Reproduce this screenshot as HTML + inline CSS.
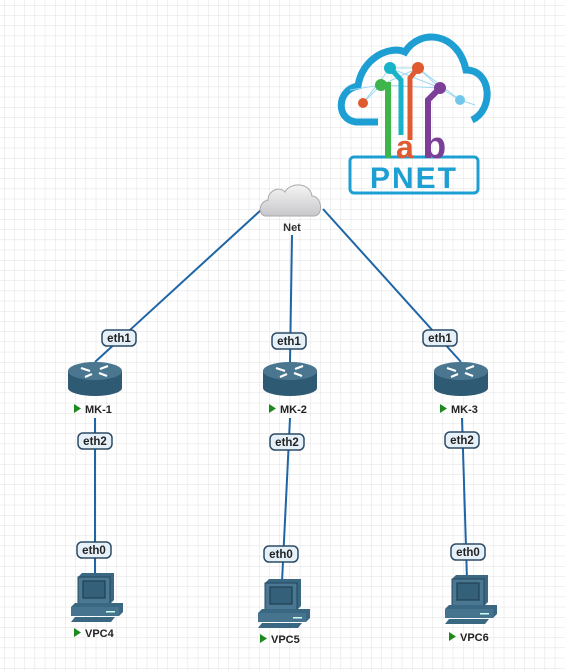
<!DOCTYPE html>
<html><head><meta charset="utf-8"><style>
html,body{margin:0;padding:0;background:#fff;}
svg{display:block;}
text{font-family:"Liberation Sans",sans-serif;font-weight:bold;}
</style></head><body>
<svg width="565" height="670" viewBox="0 0 565 670" xmlns="http://www.w3.org/2000/svg">
<defs>
<pattern id="g" x="4" y="5" width="10.2" height="10.2" patternUnits="userSpaceOnUse">
<path d="M0 0H10.2M0 0V10.2" stroke="#e0e0e0" stroke-width="1" fill="none"/>
</pattern>
<linearGradient id="cl" x1="0" y1="0" x2="0" y2="1"><stop offset="0" stop-color="#f4f4f4"/><stop offset="1" stop-color="#c8c8cc"/></linearGradient>
<g id="router">
<path d="M-27 -8 V9 A27 8 0 0 0 27 9 V-8 Z" fill="#2f5a73"/>
<ellipse cx="0" cy="-8" rx="27" ry="9" fill="#4a7690"/>
<g stroke="#fff" stroke-width="2.2" fill="none">
<path d="M-14 -11 L-5 -8 M-3 -5 L-10 -2 M5 -10 L13 -13 M4 -6 L12 -3"/>
</g>
</g>
<g id="pc">
<path d="M-18 -27 L-14 -31 H18 V-4 L14 0 H-18 Z" fill="#3a6781"/>
<rect x="-18" y="-27" width="32" height="27" fill="#4a7892" stroke="#24485e" stroke-width="1"/>
<rect x="-13" y="-23" width="22" height="17" fill="#356079" stroke="#1f3f52" stroke-width="1.2"/>
<path d="M-25 3 L-21 -1 H27 V8 L23 12 H-25 Z" fill="#3a6781"/>
<rect x="-25" y="3" width="48" height="9" fill="#46748e"/>
<rect x="10" y="7" width="9" height="1.5" fill="#cfe"/>
<path d="M-21 13 H19 L15 18 H-25 Z" fill="#3a6781"/>
</g>
</defs>
<rect width="565" height="670" fill="url(#g)"/>

<g stroke="#1f65a6" stroke-width="2" fill="none">
<line x1="261" y1="210" x2="95" y2="362"/>
<line x1="292" y1="235" x2="290" y2="362"/>
<line x1="323" y1="209" x2="461" y2="362"/>
<line x1="95" y1="418" x2="95" y2="578"/>
<line x1="290" y1="418" x2="282" y2="582"/>
<line x1="462" y1="418" x2="467" y2="580"/>
</g>

<!-- logo -->
<g>
<path d="M378 122 H356 C336 120 336 90 358 86 C362 58 390 45 405 52 C420 28 458 32 466 70 C492 70 494 110 472 120" fill="none" stroke="#1e9fd4" stroke-width="7"/>
<g stroke="#9fd8ef" stroke-width="1" fill="none">
<path d="M363 103 L390 68 L418 68 L440 88 L460 100 M363 103 L381 85 L440 88 M390 68 L440 88 M418 68 L460 100 M381 85 L418 68 M350 90 L381 85 M460 100 L475 105"/>
</g>
<rect x="350" y="157" width="128" height="36" rx="4" fill="none" stroke="#1e9fd4" stroke-width="3"/>
<text x="414" y="188" font-size="30" fill="#1e9fd4" text-anchor="middle" letter-spacing="2">PNET</text>
<path d="M381 85 H388 V158" stroke="#3db54a" stroke-width="6" fill="none"/>
<path d="M390 68 L401 80 V135" stroke="#17b3c8" stroke-width="5" fill="none"/>
<path d="M418 68 L410 78 V140" stroke="#e05a30" stroke-width="5" fill="none"/>
<path d="M440 88 L428 100 V158" stroke="#7b3f98" stroke-width="6" fill="none"/>
<text x="396" y="158" font-size="32" fill="#e05a30">a</text>
<text x="423" y="158" font-size="38" fill="#7b3f98">b</text>
<circle cx="390" cy="68" r="6" fill="#17b3c8"/>
<circle cx="418" cy="68" r="6" fill="#e05a30"/>
<circle cx="381" cy="85" r="6" fill="#3db54a"/>
<circle cx="440" cy="88" r="6" fill="#7b3f98"/>
<circle cx="363" cy="103" r="5" fill="#e05a30"/>
<circle cx="460" cy="100" r="5" fill="#6fc8ec"/>
</g>

<!-- cloud -->
<path d="M266 216 C258 216 258 202 268 200 C268 190 280 186 285 192 C290 182 310 182 312 196 C322 196 324 216 314 216 Z" fill="url(#cl)" stroke="#aaa" stroke-width="1"/>
<text x="292" y="231" font-size="11" fill="#333" text-anchor="middle">Net</text>

<use href="#router" x="95" y="379"/>
<use href="#router" x="290" y="379"/>
<use href="#router" x="461" y="379"/>
<use href="#pc" x="96" y="604"/>
<use href="#pc" x="283" y="610"/>
<use href="#pc" x="470" y="606"/>

<g font-size="11" fill="#222">
<path d="M74 404 l7 4.5 -7 4.5z" fill="#1e8a1e"/><text x="85" y="413">MK-1</text>
<path d="M269 404 l7 4.5 -7 4.5z" fill="#1e8a1e"/><text x="280" y="413">MK-2</text>
<path d="M440 404 l7 4.5 -7 4.5z" fill="#1e8a1e"/><text x="451" y="413">MK-3</text>
<path d="M74 628 l7 4.5 -7 4.5z" fill="#1e8a1e"/><text x="85" y="637">VPC4</text>
<path d="M260 634 l7 4.5 -7 4.5z" fill="#1e8a1e"/><text x="271" y="643">VPC5</text>
<path d="M449 632 l7 4.5 -7 4.5z" fill="#1e8a1e"/><text x="460" y="641">VPC6</text>
</g>

<g font-size="11.5" fill="#222" text-anchor="middle">
<g><rect x="102" y="330" width="34" height="16" rx="5" fill="#e6f0f8" stroke="#2c4a66" stroke-width="1.5"/><text x="119" y="342">eth1</text></g>
<g><rect x="272" y="333" width="34" height="16" rx="5" fill="#e6f0f8" stroke="#2c4a66" stroke-width="1.5"/><text x="289" y="345">eth1</text></g>
<g><rect x="423" y="330" width="34" height="16" rx="5" fill="#e6f0f8" stroke="#2c4a66" stroke-width="1.5"/><text x="440" y="342">eth1</text></g>
<g><rect x="78" y="433" width="34" height="16" rx="5" fill="#e6f0f8" stroke="#2c4a66" stroke-width="1.5"/><text x="95" y="445">eth2</text></g>
<g><rect x="270" y="434" width="34" height="16" rx="5" fill="#e6f0f8" stroke="#2c4a66" stroke-width="1.5"/><text x="287" y="446">eth2</text></g>
<g><rect x="445" y="432" width="34" height="16" rx="5" fill="#e6f0f8" stroke="#2c4a66" stroke-width="1.5"/><text x="462" y="444">eth2</text></g>
<g><rect x="77" y="542" width="34" height="16" rx="5" fill="#e6f0f8" stroke="#2c4a66" stroke-width="1.5"/><text x="94" y="554">eth0</text></g>
<g><rect x="264" y="546" width="34" height="16" rx="5" fill="#e6f0f8" stroke="#2c4a66" stroke-width="1.5"/><text x="281" y="558">eth0</text></g>
<g><rect x="451" y="544" width="34" height="16" rx="5" fill="#e6f0f8" stroke="#2c4a66" stroke-width="1.5"/><text x="468" y="556">eth0</text></g>
</g>
</svg>
</body></html>
